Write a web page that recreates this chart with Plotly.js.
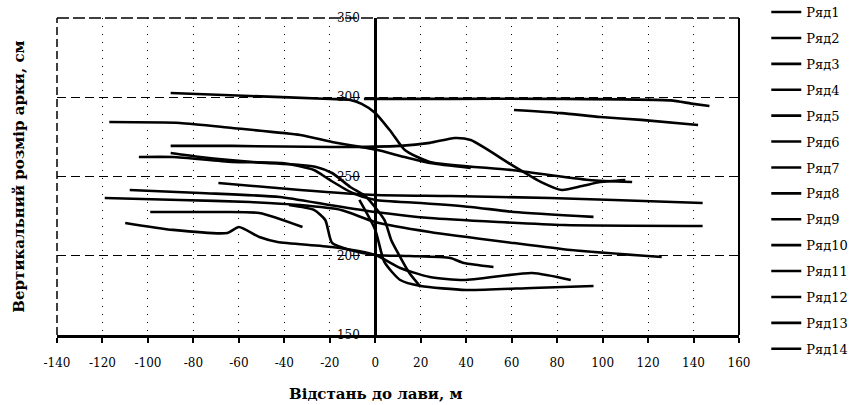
<!DOCTYPE html>
<html><head><meta charset="utf-8">
<script src="https://cdn.plot.ly/plotly-3.0.1.min.js"></script>
<style>html,body{margin:0;padding:0;background:#fff}</style>
</head><body>
<div id="chart" style="width:860px;height:405px"></div>
<script>
const seriesNames = ['Ряд1','Ряд2','Ряд3','Ряд4','Ряд5','Ряд6','Ряд7','Ряд8','Ряд9','Ряд10','Ряд11','Ряд12','Ряд13','Ряд14'];

const x1 = [-90,-55,-20,-11,-6,0,7,13,24,60,94,113];
const y1 = [302.7,300.8,298.9,298.3,295.8,290.1,278.1,266.7,259.2,254.1,247.8,246.5];
const x2 = [-5,33,77,130,139,147];
const y2 = [299,299,299,298,296,294.5];
const x3 = [61,82,99,117,142];
const y3 = [292,290,287.5,285.7,282.5];
const x4 = [-117,-86,-63,-33,-19,1,11,24,42];
const y4 = [284.4,283.8,280.6,276.2,271.8,266.7,263,258.5,255.4];
const x5 = [-90,-63,-19,11,24,35,42,60,73,82,91,99,110];
const y5 = [269.3,269.3,268.6,269.3,271.2,274.3,273,257.3,246.5,241.5,244,246.5,247.8];
const x6 = [-104,-89,-63,-41,-27,-20,-10,0,20,42,61,96];
const y6 = [262.3,262.3,259.2,258.5,254.1,247.8,239.6,235.2,233.3,230.8,227.6,224.5];
const x7 = [-90,-77,-48,-33,-26,-19,-11,-4,4,7,10,15,20];
const y7 = [264.8,262.3,258.5,257.3,256,252.2,243.4,237.1,222.6,210,201.7,189.1,180.3];
const x8 = [-69,-33,0,33,77,105,144];
const y8 = [245.9,241.5,238.3,237.7,236.4,235.2,233.3];
const x9 = [-108,-77,-42,-20,0,24,54,83,144];
const y9 = [241.5,239.6,237.1,232,227.6,223.8,221.3,219.4,218.8];
const x10 = [-119,-86,-55,-33,-15,0,24,61,86,126];
const y10 = [236.4,235.2,233.9,232,228.9,221.3,215,208,203.6,199.2];
const x11 = [-99,-72,-51,-32];
const y11 = [227.6,227.6,227,218.1];
const x12 = [-110,-89,-65,-60,-51,-43,-19,0,11,24,39,69,86];
const y12 = [220.7,216.3,214.4,218.1,211.8,208.7,205.5,200.5,192.3,186.6,184.7,189.1,184.7];
const x13 = [-38,-27,-22,-19,-11,0,15,33,39,52];
const y13 = [232,228.9,222.6,208.1,203.6,200.5,199.8,198.6,195.4,192.9];
const x14 = [-7,0,4,11,20,40,69,96];
const y14 = [235.2,216.3,196.1,184.7,180.9,178.4,179.7,180.9];

const xTicks = [-140,-120,-100,-80,-60,-40,-20,0,20,40,60,80,100,120,140,160];
const yTicks = [150,200,250,300,350];

const xs = [x1,x2,x3,x4,x5,x6,x7,x8,x9,x10,x11,x12,x13,x14];
const ys = [y1,y2,y3,y4,y5,y6,y7,y8,y9,y10,y11,y12,y13,y14];

const traces = xs.map((xv, i) => ({
  type: 'scatter', mode: 'lines', x: xv, y: ys[i], name: seriesNames[i],
  legendgroup: 'g' + i,
  line: {color: '#000', width: 2.6, shape: 'spline', smoothing: 0.6}
}));

const layout = {
  width: 860, height: 405,
  margin: {l: 57, r: 121, t: 18, b: 70, autoexpand: false},
  paper_bgcolor: '#fff', plot_bgcolor: '#fff',
  font: {family: 'DejaVu Serif, serif', color: '#000', size: 12},
  showlegend: true,
  legend: {x: 1.040, xanchor: 'left', y: 1.066, yanchor: 'top', maxheight: 400,
           font: {family: 'DejaVu Serif, serif', size: 13, color: '#000'},
           tracegroupgap: 6, bgcolor: 'rgba(0,0,0,0)', traceorder: 'grouped'},
  xaxis: {range: [-140, 160], tickvals: xTicks, ticktext: xTicks.map(String),
          showline: true, linecolor: '#000', linewidth: 2.5,
          ticks: 'outside', ticklen: 5, tickwidth: 2, tickcolor: '#000',
          ticklabelstandoff: 10,
          showgrid: true, gridcolor: '#000', gridwidth: 1, griddash: '1px,7px',
          zeroline: false, tickfont: {family: 'DejaVu Serif, serif', size: 12}},
  yaxis: {range: [150, 350], tickvals: yTicks, ticktext: yTicks.map(String),
          anchor: 'free', position: 140 / 300,
          showline: true, linecolor: '#000', linewidth: 2.5,
          ticks: '', ticklabelstandoff: 12,
          showgrid: true, gridcolor: '#000', gridwidth: 1, griddash: '9px,5px',
          zeroline: false, tickfont: {family: 'DejaVu Serif, serif', size: 12}},
  shapes: [
    {type: 'line', xref: 'paper', yref: 'paper', x0: 0, x1: 0, y0: 0, y1: 1,
     line: {color: '#000', width: 1.5, dash: '8px,4px'}},
    {type: 'line', xref: 'paper', yref: 'paper', x0: 0, x1: 1, y0: 1, y1: 1,
     line: {color: '#000', width: 1.5, dash: '12px,4px'}},
    {type: 'line', xref: 'paper', yref: 'paper', x0: 1, x1: 1, y0: 0, y1: 1,
     line: {color: '#000', width: 2}}
  ],
  annotations: [
    {text: 'Відстань до лави, м', xref: 'paper', yref: 'paper',
     x: 140 / 300, y: -0.185, xanchor: 'center', yanchor: 'middle', showarrow: false,
     font: {family: 'DejaVu Serif, serif', size: 15, color: '#000', weight: 'bold'}},
    {text: 'Вертикальний розмір арки, см', xref: 'paper', yref: 'paper',
     x: -0.057, y: 0.5, xanchor: 'center', yanchor: 'middle', showarrow: false,
     textangle: -90,
     font: {family: 'DejaVu Serif, serif', size: 15, color: '#000', weight: 'bold'}}
  ]
};

Plotly.newPlot('chart', traces, layout, {displayModeBar: false, staticPlot: true});
</script>
</body></html>
